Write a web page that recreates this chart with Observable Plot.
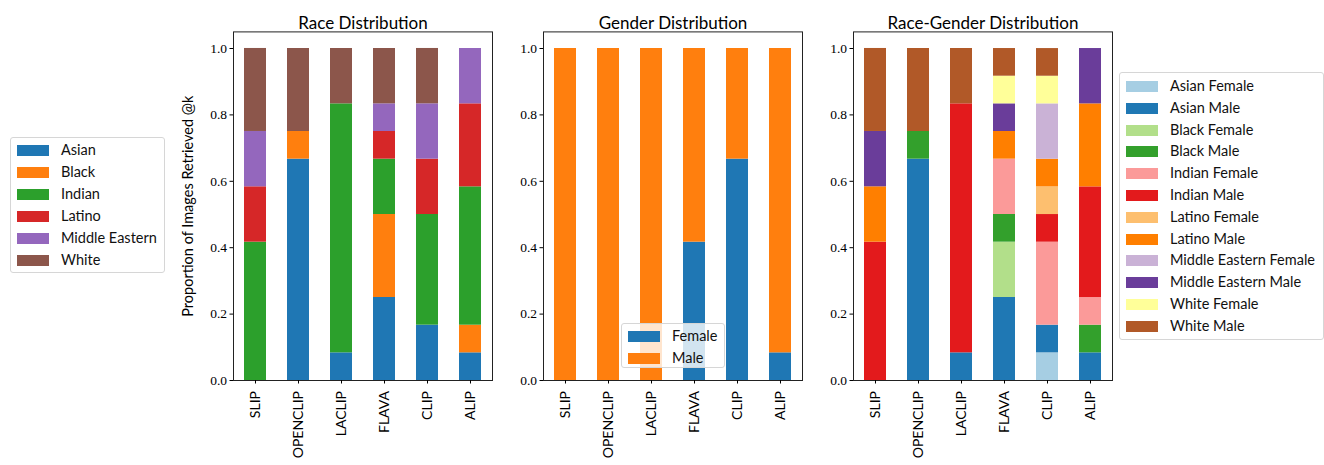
<!DOCTYPE html>
<html>
<head>
<meta charset="utf-8">
<script src="https://cdn.jsdelivr.net/npm/d3@7"></script>
<script src="https://cdn.jsdelivr.net/npm/@observablehq/plot@0.6"></script>
<style>
  html, body { margin: 0; padding: 0; background: #fff; }
  #root { position: relative; width: 1324px; height: 465px; overflow: hidden; font-family: Lato, "DejaVu Sans", sans-serif; }
  .panel { position: absolute; top: 0; }
  .legend { position: absolute; border: 1px solid #d6d6d6; border-radius: 3px; background: rgba(255,255,255,0.8); box-sizing: border-box; z-index: 5; }
  .legend .row { position: absolute; left: 0; height: 14px; font-size: 14.5px; color: #111; line-height: 14px; white-space: nowrap; }
  .legend .sw { position: absolute; left: 6px; top: 1px; width: 32px; height: 11px; }
  .legend .lab { position: absolute; left: 50px; top: -1px; }
</style>
</head>
<body>
<div id="root"></div>
<script>
// ---------- data ----------
const models = ["SLIP", "OPENCLIP", "LACLIP", "FLAVA", "CLIP", "ALIP"];

const races = ["Asian", "Black", "Indian", "Latino", "Middle Eastern", "White"];
const asian         = [0.0,    0.6667, 0.0833, 0.25,   0.1667, 0.0833];
const black         = [0.0,    0.0833, 0.0,    0.25,   0.0,    0.0833];
const indian        = [0.4167, 0.0,    0.75,   0.1667, 0.3333, 0.4167];
const latino        = [0.1667, 0.0,    0.0,    0.0833, 0.1667, 0.25];
const middleEastern = [0.1667, 0.0,    0.0,    0.0833, 0.1667, 0.1667];
const white         = [0.25,   0.25,   0.1667, 0.1667, 0.1667, 0.0];

const genders = ["Female", "Male"];
const female = [0.0, 0.0, 0.0, 0.4167, 0.6667, 0.0833];
const male   = [1.0, 1.0, 1.0, 0.5833, 0.3333, 0.9167];

const raceGenders = ["Asian Female", "Asian Male", "Black Female", "Black Male",
  "Indian Female", "Indian Male", "Latino Female", "Latino Male",
  "Middle Eastern Female", "Middle Eastern Male", "White Female", "White Male"];
const asianFemale         = [0.0,    0.0,    0.0,    0.0,    0.0833, 0.0];
const asianMale           = [0.0,    0.6667, 0.0833, 0.25,   0.0833, 0.0833];
const blackFemale         = [0.0,    0.0,    0.0,    0.1667, 0.0,    0.0];
const blackMale           = [0.0,    0.0833, 0.0,    0.0833, 0.0,    0.0833];
const indianFemale        = [0.0,    0.0,    0.0,    0.1667, 0.25,   0.0833];
const indianMale          = [0.4167, 0.0,    0.75,   0.0,    0.0833, 0.3333];
const latinoFemale        = [0.0,    0.0,    0.0,    0.0,    0.0833, 0.0];
const latinoMale          = [0.1667, 0.0,    0.0,    0.0833, 0.0833, 0.25];
const middleEasternFemale = [0.0,    0.0,    0.0,    0.0,    0.1667, 0.0];
const middleEasternMale   = [0.1667, 0.0,    0.0,    0.0833, 0.0,    0.1667];
const whiteFemale         = [0.0,    0.0,    0.0,    0.0833, 0.0833, 0.0];
const whiteMale           = [0.25,   0.25,   0.1667, 0.0833, 0.0833, 0.0];

const yTicks = [0, 0.2, 0.4, 0.6, 0.8, 1.0];

// ---------- styles ----------
const tab10 = ["#1f77b4", "#ff7f0e", "#2ca02c", "#d62728", "#9467bd", "#8c564b"];
const paired = ["#a6cee3", "#1f78b4", "#b2df8a", "#33a02c", "#fb9a99", "#e31a1c",
  "#fdbf6f", "#ff7f00", "#cab2d6", "#6a3d9a", "#ffff99", "#b15928"];

const root = document.getElementById("root");
const sans = "Lato, 'DejaVu Sans', sans-serif";
const serif = "'Liberation Serif', 'DejaVu Serif', serif";

function toRows(names, arrays) {
  const rows = [];
  names.forEach((n, si) => models.forEach((m, mi) => rows.push({model: m, series: n, value: arrays[si][mi]})));
  return rows;
}

function panel({title, names, arrays, colors, left, yLabel}) {
  const rows = toRows(names, arrays);
  const marks = [
    Plot.barY(rows, {x: "model", y: "value", fill: "series"}),
    Plot.frame({stroke: "#222", strokeWidth: 1}),
    Plot.axisY({ticks: yTicks, tickFormat: ".1f", tickSize: 3.5, tickPadding: 3, label: null,
      fontFamily: serif, fontSize: 13.5, stroke: "#000"}),
    Plot.axisX({tickRotate: -90, tickSize: 3.5, tickPadding: 7, label: null,
      fontFamily: sans, fontSize: 14, stroke: "#000"}),
    Plot.text([title], {frameAnchor: "top", dy: -15, fontSize: 17, fontWeight: 400, fontFamily: sans, fill: "#000"})
  ];
  if (yLabel) marks.push(Plot.text([yLabel], {frameAnchor: "left", textAnchor: "middle", rotate: -90, dx: -45,
    fontSize: 14.5, fontWeight: 400, fontFamily: sans, fill: "#000"}));
  const svg = Plot.plot({
    width: 312, height: 465,
    marginLeft: 50, marginRight: 3, marginTop: 31.4, marginBottom: 85,
    x: {domain: models, paddingInner: 0.5, paddingOuter: 0.25, label: null},
    y: {domain: [0, 1.05], label: null},
    color: {domain: names, range: colors},
    style: {color: "#000", background: "transparent", overflow: "visible"},
    marks
  });
  svg.classList.add("panel");
  svg.style.left = left + "px";
  root.appendChild(svg);
}

function legend({names, colors, left, top, width, height, rowStep, firstY}) {
  const box = document.createElement("div");
  box.className = "legend";
  Object.assign(box.style, {left: left + "px", top: top + "px", width: width + "px", height: height + "px"});
  names.forEach((n, i) => {
    const row = document.createElement("div");
    row.className = "row";
    row.style.top = (firstY + i * rowStep) + "px";
    const sw = document.createElement("div");
    sw.className = "sw";
    sw.style.background = colors[i];
    const lab = document.createElement("div");
    lab.className = "lab";
    lab.textContent = n;
    row.appendChild(sw); row.appendChild(lab);
    box.appendChild(row);
  });
  root.appendChild(box);
}

panel({title: "Race Distribution", names: races,
  arrays: [asian, black, indian, latino, middleEastern, white],
  colors: tab10, left: 183, yLabel: "Proportion of Images Retrieved @k"});
panel({title: "Gender Distribution", names: genders,
  arrays: [female, male], colors: tab10.slice(0, 2), left: 493});
panel({title: "Race-Gender Distribution", names: raceGenders,
  arrays: [asianFemale, asianMale, blackFemale, blackMale, indianFemale, indianMale,
    latinoFemale, latinoMale, middleEasternFemale, middleEasternMale, whiteFemale, whiteMale],
  colors: paired, left: 803});

legend({names: races, colors: tab10, left: 10, top: 137, width: 155, height: 136, rowStep: 22, firstY: 6});
legend({names: genders, colors: tab10.slice(0, 2), left: 621, top: 323, width: 104, height: 45, rowStep: 22, firstY: 6});
legend({names: raceGenders, colors: paired, left: 1119, top: 72, width: 205, height: 268, rowStep: 21.8, firstY: 7});
</script>
</body>
</html>
